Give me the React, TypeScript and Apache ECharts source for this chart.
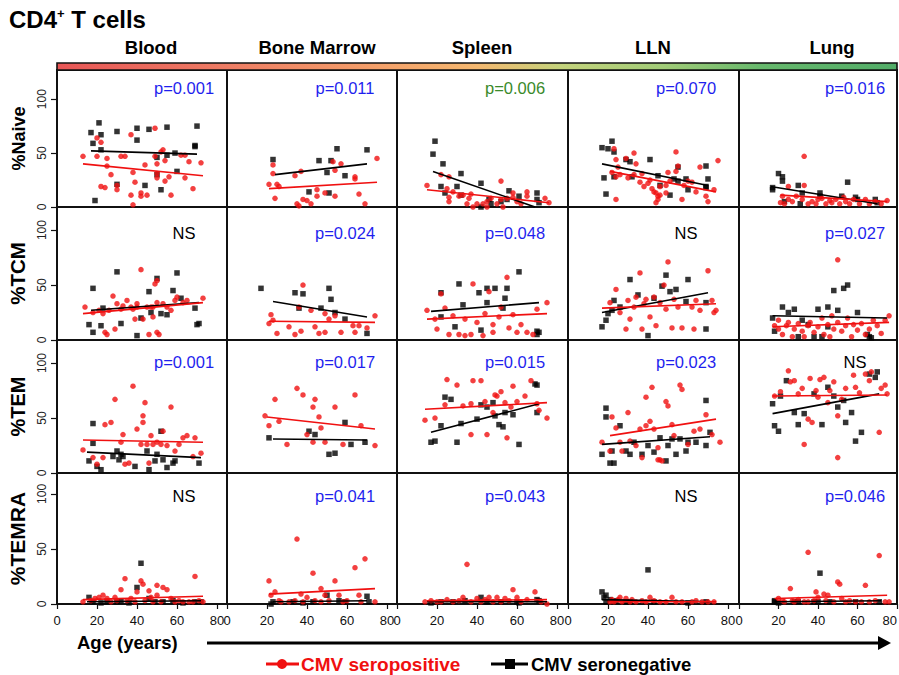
import React, { useEffect, useRef } from 'react';
import * as echarts from 'echarts';

// ---------- labels ----------
const tissues = ['Blood', 'Bone Marrow', 'Spleen', 'LLN', 'Lung'];
const subsets = ['%Naive', '%TCM', '%TEM', '%TEMRA'];
const xTicks = [0, 20, 40, 60, 80];
const yTicks = [0, 50, 100];
const pLabels = [
  ['p=0.001', 'p=0.011', 'p=0.006', 'p=0.070', 'p=0.016'],
  ['NS', 'p=0.024', 'p=0.048', 'NS', 'p=0.027'],
  ['p=0.001', 'p=0.017', 'p=0.015', 'p=0.023', 'NS'],
  ['NS', 'p=0.041', 'p=0.043', 'NS', 'p=0.046'],
];
const pColors = [
  ['#1f1fee', '#1f1fee', '#3a8a2a', '#1f1fee', '#1f1fee'],
  ['#000', '#1f1fee', '#1f1fee', '#000', '#1f1fee'],
  ['#1f1fee', '#1f1fee', '#1f1fee', '#1f1fee', '#000'],
  ['#000', '#1f1fee', '#1f1fee', '#000', '#1f1fee'],
];

// ---------- %Naive ----------
const naiveBloodNeg = [[17,69],[18,59],[21,78],[22,67],[22,53],[19,6],[30,70],[40,73],[40,62],[46,72],[55,74],[50,46],[44,20],[52,16],[55,48],[59,50],[60,33],[69,57],[70,75],[69,56],[50,30],[30,21]];
const naiveBloodPos = [[13,47],[20,64],[22,60],[20,47],[25,45],[25,38],[24,18],[27,30],[30,16],[32,47],[34,47],[37,67],[38,32],[39,23],[37,11],[38,2],[42,10],[42,13],[44,39],[45,11],[49,47],[49,73],[50,40],[50,31],[50,27],[52,51],[53,53],[54,24],[56,28],[57,11],[62,48],[64,48],[64,27],[66,42],[68,17],[72,41],[30,20],[22,19],[54,43]];
const naiveBloodNegFit = [[17,52],[70,49]];
const naiveBloodPosFit = [[13,40],[73,29]];

const naiveBMNeg = [[23,44],[46,43],[52,43],[55,54],[70,53],[50,32],[59,29],[41,14],[51,13]];
const naiveBMPos = [[23,39],[23,31],[21,21],[25,21],[26,19],[24,8],[34,29],[37,33],[35,3],[36,1],[38,7],[40,6],[42,3],[45,16],[45,10],[49,13],[53,42],[54,34],[54,10],[57,40],[64,28],[64,26],[66,12],[69,3],[75,45]];
const naiveBMNegFit = [[24,30],[70,40]];
const naiveBMPosFit = [[21,17],[75,23]];

const naiveSpleenNeg = [[19,61],[18,49],[23,40],[32,31],[22,19],[30,19],[24,13],[32,11],[42,22],[46,7],[47,3],[55,7],[56,15],[61,10],[70,13],[70,7],[71,4],[42,0],[52,5]];
const naiveSpleenPos = [[15,20],[22,30],[26,28],[25,17],[26,9],[26,5],[28,14],[31,10],[33,11],[36,8],[37,12],[40,3],[43,3],[45,5],[47,8],[52,24],[50,3],[52,7],[55,8],[58,13],[58,9],[60,5],[65,14],[65,10],[74,8],[76,4],[35,3],[38,0],[45,0],[53,0],[62,3]];
const naiveSpleenNegFit = [[18,33],[69,0]];
const naiveSpleenPosFit = [[15,16],[76,4]];

const naiveLLNNeg = [[17,55],[20,54],[22,61],[23,51],[29,44],[31,42],[41,44],[18,27],[19,12],[23,28],[32,28],[45,29],[46,20],[51,11],[53,26],[55,37],[55,24],[59,26],[60,16],[69,38],[70,26],[69,18],[69,19]];
const naiveLLNPos = [[23,54],[24,44],[25,37],[22,32],[24,28],[26,30],[29,45],[30,27],[33,50],[33,30],[34,40],[37,31],[36,23],[38,19],[40,22],[41,25],[42,17],[43,14],[44,13],[45,10],[45,7],[46,19],[46,11],[49,20],[49,13],[50,32],[51,24],[54,51],[54,33],[55,38],[57,7],[58,20],[60,24],[62,23],[64,14],[66,37],[69,10],[70,5],[73,16],[75,43],[24,7],[44,4]];
const naiveLLNNegFit = [[17,40],[70,20]];
const naiveLLNPosFit = [[21,33],[74,14]];

const naiveLungNeg = [[17,16],[17,18],[20,31],[22,28],[22,24],[30,20],[32,13],[41,13],[41,10],[52,10],[55,23],[59,9],[60,7],[69,7],[70,4],[23,5],[31,3]];
const naiveLungPos = [[33,47],[25,19],[33,20],[22,10],[25,7],[27,5],[29,10],[32,7],[35,3],[37,5],[40,7],[42,8],[44,3],[46,6],[47,4],[49,7],[51,3],[53,9],[54,5],[56,3],[58,7],[61,3],[64,7],[66,3],[69,5],[72,3],[75,6],[21,4],[23,3],[39,3]];
const naiveLungNegFit = [[16,19],[70,3]];
const naiveLungPosFit = [[21,11],[75,5]];

// ---------- %TCM ----------
const tcmBloodNeg = [[16,14],[18,7],[22,13],[18,47],[23,29],[30,62],[32,15],[40,4],[42,20],[46,44],[47,25],[50,56],[52,24],[58,45],[55,23],[60,61],[62,38],[69,29],[70,14],[71,15]];
const tcmBloodPos = [[14,30],[18,25],[21,27],[23,24],[24,7],[25,5],[26,27],[28,40],[29,10],[30,33],[32,28],[33,31],[35,36],[37,30],[38,28],[39,19],[40,30],[42,64],[43,19],[45,30],[46,5],[47,30],[48,21],[48,30],[50,34],[50,7],[51,5],[49,51],[50,54],[53,33],[55,30],[57,27],[59,36],[60,39],[63,34],[65,36],[73,38],[40,33]];
const tcmBloodNegFit = [[17,27],[71,34]];
const tcmBloodPosFit = [[13,24],[73,34]];

const tcmBMNeg = [[17,47],[34,43],[36,29],[38,42],[47,29],[51,47],[52,37],[54,25],[59,19],[70,6]];
const tcmBMPos = [[22,23],[23,18],[21,15],[25,6],[31,12],[34,5],[37,8],[38,50],[44,12],[46,6],[49,7],[49,24],[51,19],[54,22],[57,7],[63,13],[64,7],[66,13],[70,11],[74,22],[36,30],[42,27]];
const tcmBMNegFit = [[23,35],[70,21]];
const tcmBMPosFit = [[21,17],[74,16]];

const tcmSpleenNeg = [[22,21],[22,43],[29,12],[31,51],[33,32],[41,43],[42,9],[45,47],[45,34],[49,47],[53,29],[54,38],[55,47],[61,62],[70,5],[70,8],[71,7]];
const tcmSpleenPos = [[15,27],[19,19],[20,10],[24,29],[26,5],[28,22],[31,5],[34,4],[34,19],[37,5],[38,51],[40,16],[43,4],[44,24],[46,44],[48,14],[48,7],[51,21],[52,30],[55,57],[56,11],[58,23],[60,7],[62,14],[65,7],[68,5],[70,28],[75,34],[22,42]];
const tcmSpleenNegFit = [[17,26],[71,34]];
const tcmSpleenPosFit = [[15,19],[75,24]];

const tcmLLNNeg = [[17,12],[19,18],[20,24],[22,27],[23,36],[26,30],[31,55],[35,41],[40,4],[43,38],[47,49],[49,59],[51,44],[54,46],[59,35],[60,55],[69,34],[69,10]];
const tcmLLNPos = [[21,34],[24,46],[26,25],[29,10],[30,36],[31,19],[33,30],[34,39],[36,61],[37,10],[38,33],[39,37],[41,21],[43,39],[44,13],[46,34],[48,50],[49,28],[50,71],[52,11],[53,37],[55,30],[57,11],[62,30],[63,10],[64,36],[66,27],[70,63],[73,25],[74,27],[72,36]];
const tcmLLNNegFit = [[17,25],[70,43]];
const tcmLLNPosFit = [[17,29],[74,33]];

const tcmLungNeg = [[17,20],[18,8],[22,30],[25,25],[28,28],[30,3],[32,18],[35,14],[38,3],[40,28],[42,3],[45,30],[45,12],[48,45],[50,27],[53,47],[55,50],[65,5],[66,3],[67,2],[60,25]];
const tcmLungPos = [[18,13],[20,10],[22,5],[24,13],[25,16],[27,3],[28,10],[30,15],[32,8],[33,3],[35,13],[36,16],[38,7],[40,12],[42,20],[43,5],[45,14],[46,3],[48,10],[50,73],[50,16],[52,8],[54,13],[55,20],[57,3],[58,14],[60,9],[62,15],[64,5],[66,10],[68,18],[70,13],[72,6],[74,18],[76,22],[20,18],[47,22]];
const tcmLungNegFit = [[17,22],[75,20]];
const tcmLungPosFit = [[17,12],[76,16]];

// ---------- %TEM ----------
const temBloodNeg = [[16,11],[18,27],[18,45],[20,6],[22,3],[30,20],[32,17],[31,12],[33,15],[39,6],[45,20],[46,3],[50,17],[52,38],[53,12],[55,5],[58,9],[59,11],[71,9],[28,15],[49,11]];
const temBloodPos = [[13,21],[18,14],[20,8],[23,14],[24,44],[27,46],[29,67],[32,28],[33,35],[34,8],[36,9],[38,79],[40,40],[42,26],[43,52],[43,46],[44,64],[45,26],[46,9],[47,34],[48,26],[50,28],[52,26],[53,38],[55,25],[57,60],[59,20],[61,26],[63,32],[65,34],[68,15],[69,32],[72,18]];
const temBloodNegFit = [[15,19],[72,14]];
const temBloodPosFit = [[13,30],[73,28]];

const temBMNeg = [[21,32],[41,38],[44,35],[51,17],[54,18],[59,46],[62,26],[69,28]];
const temBMPos = [[19,52],[21,43],[24,67],[26,47],[30,26],[35,77],[38,71],[40,35],[43,60],[44,67],[46,51],[47,41],[49,28],[54,60],[58,26],[64,71],[67,43],[74,25],[43,28]];
const temBMNegFit = [[23,31],[70,30]];
const temBMPosFit = [[20,51],[74,40]];

const temSpleenNeg = [[17,28],[19,29],[22,43],[24,69],[27,67],[30,28],[32,45],[40,49],[42,62],[45,60],[48,64],[49,52],[51,44],[53,42],[54,55],[58,53],[61,26],[69,81],[70,80],[70,55]];
const temSpleenPos = [[14,48],[19,50],[24,62],[25,85],[30,80],[33,61],[37,63],[38,84],[42,84],[44,65],[45,35],[48,55],[49,71],[50,70],[52,74],[54,64],[55,32],[57,60],[58,79],[60,65],[64,70],[67,84],[70,63],[71,57],[75,50],[37,35]];
const temSpleenNegFit = [[17,37],[71,63]];
const temSpleenPosFit = [[14,58],[75,64]];

const temLLNNeg = [[17,17],[19,59],[19,51],[21,9],[22,20],[23,9],[26,43],[29,20],[31,17],[33,28],[37,17],[40,25],[43,19],[46,32],[49,11],[50,25],[52,31],[54,17],[56,31],[60,28],[64,28],[69,25],[69,66],[71,37],[59,20]];
const temLLNPos = [[17,28],[21,20],[22,51],[24,41],[26,28],[27,20],[30,55],[31,29],[34,25],[36,40],[37,14],[39,43],[39,69],[41,47],[42,78],[43,40],[45,23],[46,12],[47,11],[49,65],[50,61],[53,34],[56,80],[57,76],[60,26],[63,38],[66,40],[69,53],[72,35],[76,28],[52,44],[45,12]];
const temLLNNegFit = [[17,26],[71,33]];
const temLLNPosFit = [[21,34],[74,49]];

const temLungNeg = [[17,63],[18,43],[20,38],[21,70],[24,84],[28,55],[30,44],[33,54],[38,72],[42,44],[45,78],[48,70],[50,60],[53,66],[54,46],[57,55],[59,29],[62,37],[66,90],[69,87],[70,92]];
const temLungPos = [[18,70],[21,74],[25,93],[26,83],[28,84],[30,72],[32,77],[33,26],[35,49],[36,86],[37,46],[39,75],[40,69],[41,85],[43,87],[45,64],[46,75],[48,83],[50,52],[50,14],[52,67],[54,77],[58,89],[59,78],[61,73],[64,90],[66,84],[67,92],[71,37],[72,77],[74,80],[75,72]];
const temLungNegFit = [[17,54],[71,72]];
const temLungPosFit = [[17,70],[75,71]];

// ---------- %TEMRA ----------
const temraBloodNeg = [[16,6],[18,2],[22,1],[25,2],[30,2],[32,3],[40,15],[42,37],[46,5],[49,2],[53,2],[58,3],[69,2],[72,2],[36,1],[63,1]];
const temraBloodPos = [[13,2],[17,3],[19,5],[21,6],[23,8],[25,5],[27,2],[29,6],[30,3],[32,13],[34,23],[35,3],[37,5],[39,2],[40,11],[42,21],[43,18],[44,3],[46,12],[47,6],[48,2],[50,8],[50,17],[52,2],[53,15],[55,13],[57,5],[59,2],[61,3],[63,2],[66,2],[68,2],[69,25],[71,3],[73,2]];
const temraBloodNegFit = [[15,2],[72,3]];
const temraBloodPosFit = [[13,4],[73,7]];

const temraBMNeg = [[22,0],[23,2],[33,2],[38,1],[43,2],[50,8],[56,3],[59,2],[70,7],[71,2]];
const temraBMPos = [[21,21],[22,8],[24,11],[26,3],[27,2],[31,2],[34,3],[35,59],[37,9],[38,2],[40,6],[43,28],[44,3],[47,2],[49,8],[51,3],[54,21],[56,8],[58,2],[60,3],[64,33],[66,8],[67,2],[69,41],[74,2],[47,14]];
const temraBMNegFit = [[23,2],[70,3]];
const temraBMPosFit = [[21,9],[74,14]];

const temraSpleenNeg = [[17,1],[22,2],[28,2],[34,3],[42,6],[45,2],[52,2],[60,2],[70,4],[71,3],[61,1]];
const temraSpleenPos = [[14,2],[17,3],[20,2],[22,2],[25,4],[28,2],[31,3],[33,6],[35,36],[37,2],[40,5],[42,2],[44,4],[46,6],[48,2],[50,6],[52,2],[54,5],[56,3],[58,13],[60,6],[62,2],[65,4],[69,11],[72,2],[75,0]];
const temraSpleenNegFit = [[15,2],[75,2]];
const temraSpleenPosFit = [[15,3],[75,4]];

const temraLLNNeg = [[17,11],[18,6],[19,2],[19,8],[21,4],[24,3],[29,2],[40,31],[43,2],[60,1],[69,2],[31,2]];
const temraLLNPos = [[21,2],[22,4],[23,2],[25,4],[27,2],[29,5],[31,2],[32,4],[34,2],[37,3],[39,2],[41,6],[43,3],[46,2],[49,2],[52,6],[54,2],[57,2],[62,2],[64,3],[67,2],[70,2],[73,2],[26,6]];
const temraLLNNegFit = [[17,4],[72,2]];
const temraLLNPosFit = [[21,2],[74,2]];

const temraLungNeg = [[18,2],[18,3],[20,1],[28,2],[30,2],[40,2],[41,28],[46,2],[59,2],[71,2],[38,2]];
const temraLungPos = [[20,5],[22,3],[23,2],[26,14],[27,3],[28,2],[30,4],[33,2],[35,47],[35,2],[38,3],[39,11],[40,6],[43,9],[44,3],[45,8],[48,2],[50,20],[51,18],[52,5],[54,2],[56,3],[59,2],[62,2],[64,17],[66,2],[69,3],[71,44],[74,2],[76,2]];
const temraLungNegFit = [[18,2],[72,3]];
const temraLungPosFit = [[18,5],[75,8]];

const negPoints = [
  [naiveBloodNeg, naiveBMNeg, naiveSpleenNeg, naiveLLNNeg, naiveLungNeg],
  [tcmBloodNeg, tcmBMNeg, tcmSpleenNeg, tcmLLNNeg, tcmLungNeg],
  [temBloodNeg, temBMNeg, temSpleenNeg, temLLNNeg, temLungNeg],
  [temraBloodNeg, temraBMNeg, temraSpleenNeg, temraLLNNeg, temraLungNeg],
];
const posPoints = [
  [naiveBloodPos, naiveBMPos, naiveSpleenPos, naiveLLNPos, naiveLungPos],
  [tcmBloodPos, tcmBMPos, tcmSpleenPos, tcmLLNPos, tcmLungPos],
  [temBloodPos, temBMPos, temSpleenPos, temLLNPos, temLungPos],
  [temraBloodPos, temraBMPos, temraSpleenPos, temraLLNPos, temraLungPos],
];
const negFits = [
  [naiveBloodNegFit, naiveBMNegFit, naiveSpleenNegFit, naiveLLNNegFit, naiveLungNegFit],
  [tcmBloodNegFit, tcmBMNegFit, tcmSpleenNegFit, tcmLLNNegFit, tcmLungNegFit],
  [temBloodNegFit, temBMNegFit, temSpleenNegFit, temLLNNegFit, temLungNegFit],
  [temraBloodNegFit, temraBMNegFit, temraSpleenNegFit, temraLLNNegFit, temraLungNegFit],
];
const posFits = [
  [naiveBloodPosFit, naiveBMPosFit, naiveSpleenPosFit, naiveLLNPosFit, naiveLungPosFit],
  [tcmBloodPosFit, tcmBMPosFit, tcmSpleenPosFit, tcmLLNPosFit, tcmLungPosFit],
  [temBloodPosFit, temBMPosFit, temSpleenPosFit, temLLNPosFit, temLungPosFit],
  [temraBloodPosFit, temraBMPosFit, temraSpleenPosFit, temraLLNPosFit, temraLungPosFit],
];

// ---------- layout ----------
const COL_LEFT = [57, 227, 397, 568, 739];
const COL_W = [170, 170, 171, 171, 158];
const X_MAX = [85, 85, 85.5, 85.5, 80];
const ROW_TOP = [70, 207, 340, 473];
const ROW_H = [137, 133, 133, 131];
const Y_MAX = [127, 121, 121, 119];
const LABEL_DX = [127, 118, 118, 118, 116];
const LABEL_DY = [18, 26, 22, 23];
const HEADER_X = [151, 317, 482, 653, 832];
const NAME_SIZE = [18, 20.5, 20, 21];

const FONT = 'Arial, "Liberation Sans", Helvetica, sans-serif';
const RED = '#f01010';
const BLACK = '#000000';

export default function App() {
  const ref = useRef<HTMLDivElement>(null);

  useEffect(() => {
    if (!ref.current) return;
    const chart = echarts.init(ref.current, null, { renderer: 'svg' });

    const grid: any[] = [];
    const xAxis: any[] = [];
    const yAxis: any[] = [];
    const series: any[] = [];
    const graphic: any[] = [];

    for (let r = 0; r < 4; r++) {
      for (let c = 0; c < 5; c++) {
        const gi = r * 5 + c;
        grid.push({
          left: COL_LEFT[c], top: ROW_TOP[r], width: COL_W[c], height: ROW_H[r],
          show: true, borderColor: '#111', borderWidth: 2, backgroundColor: '#fff',
          containLabel: false, outerBoundsMode: 'none',
        });
        const bottom = r === 3;
        xAxis.push({
          gridIndex: gi, type: 'value', min: 0, max: X_MAX[c], interval: 20,
          splitLine: { show: false },
          axisLine: { show: false },
          axisTick: { show: bottom, length: 5, lineStyle: { color: '#111', width: 1.2 }, customValues: xTicks },
          axisLabel: {
            show: bottom, fontSize: 13, color: '#111', margin: 10, fontFamily: FONT,
            customValues: xTicks,
            alignMaxLabel: c === 4 ? 'right' : undefined,
            formatter: (v: number) => (xTicks.includes(v) ? String(v) : ''),
          },
        });
        yAxis.push({
          gridIndex: gi, type: 'value', min: 0, max: Y_MAX[r], interval: 50,
          splitLine: { show: false },
          axisLine: { show: false },
          axisTick: { show: c === 0, length: 6, lineStyle: { color: '#111', width: 1.2 }, customValues: yTicks },
          axisLabel: {
            show: c === 0, rotate: 90, fontSize: 12, color: '#222', margin: 9, fontFamily: FONT,
            customValues: yTicks,
            formatter: (v: number) => (yTicks.includes(v) ? String(v) : ''),
          },
          name: c === 0 ? subsets[r] : '',
          nameLocation: 'middle', nameRotate: 90, nameGap: 29,
          nameTextStyle: { fontSize: NAME_SIZE[r], fontWeight: 'bold', color: '#000', fontFamily: FONT },
        });
        series.push({
          type: 'scatter', xAxisIndex: gi, yAxisIndex: gi, data: negPoints[r][c],
          symbol: 'rect', symbolSize: 5.5, itemStyle: { color: BLACK }, clip: false, silent: true,
        });
        series.push({
          type: 'scatter', xAxisIndex: gi, yAxisIndex: gi, data: posPoints[r][c],
          symbol: 'circle', symbolSize: 5.5, itemStyle: { color: RED }, clip: false, silent: true,
        });
        series.push({
          type: 'line', xAxisIndex: gi, yAxisIndex: gi, data: negFits[r][c],
          showSymbol: false, lineStyle: { color: BLACK, width: 1.6 }, clip: false, silent: true,
        });
        series.push({
          type: 'line', xAxisIndex: gi, yAxisIndex: gi, data: posFits[r][c],
          showSymbol: false, lineStyle: { color: RED, width: 1.6 }, clip: false, silent: true,
        });
        graphic.push({
          type: 'text', x: COL_LEFT[c] + LABEL_DX[c], y: ROW_TOP[r] + LABEL_DY[r], z: 100,
          style: {
            text: pLabels[r][c], fill: pColors[r][c], fontSize: 16.5, fontFamily: FONT,
            textAlign: 'center', textVerticalAlign: 'middle',
          },
        });
      }
    }

    // title
    graphic.push({
      type: 'text', x: 9, y: 19, z: 100,
      style: {
        text: '{a|CD4}{s|+}{a| T cells}',
        textVerticalAlign: 'middle',
        rich: {
          a: { fontSize: 24, fontWeight: 'bold', fontFamily: FONT, fill: '#000', lineHeight: 26 },
          s: { fontSize: 13, fontWeight: 'bold', fontFamily: FONT, fill: '#000', lineHeight: 26, padding: [0, 0, 12, 0] },
        },
      },
    });
    // column headers
    tissues.forEach((t, c) => {
      graphic.push({
        type: 'text', x: HEADER_X[c], y: 47, z: 100,
        style: { text: t, fontSize: 18.5, fontWeight: 'bold', fontFamily: FONT, fill: '#000', textAlign: 'center', textVerticalAlign: 'middle' },
      });
    });
    // gradient header bar
    graphic.push({
      type: 'rect', z: 100,
      shape: { x: 57, y: 63, width: 840, height: 7 },
      style: {
        fill: new echarts.graphic.LinearGradient(0, 0, 1, 0, [
          { offset: 0, color: '#e85656' },
          { offset: 0.2, color: '#ee7c64' },
          { offset: 0.38, color: '#f4a06a' },
          { offset: 0.5, color: '#f4b870' },
          { offset: 0.6, color: '#c4d37c' },
          { offset: 0.72, color: '#a2cc78' },
          { offset: 0.84, color: '#66b86c' },
          { offset: 1, color: '#52ad68' },
        ]),
        stroke: '#111', lineWidth: 1.6,
      },
    });
    // Age label and arrow
    graphic.push({
      type: 'text', x: 77, y: 642, z: 100,
      style: { text: 'Age (years)', fontSize: 18.5, fontWeight: 'bold', fontFamily: FONT, fill: '#000', textVerticalAlign: 'middle' },
    });
    graphic.push({
      type: 'line', z: 100, shape: { x1: 207, y1: 643, x2: 882, y2: 643 },
      style: { stroke: '#000', lineWidth: 3 },
    });
    graphic.push({
      type: 'polygon', z: 100, shape: { points: [[878, 636], [891, 643], [878, 650]] },
      style: { fill: '#000' },
    });
    // legend
    graphic.push({ type: 'line', z: 100, shape: { x1: 266, y1: 664, x2: 299, y2: 664 }, style: { stroke: RED, lineWidth: 3 } });
    graphic.push({ type: 'circle', z: 101, shape: { cx: 282, cy: 664, r: 5 }, style: { fill: RED } });
    graphic.push({
      type: 'text', x: 301, y: 664, z: 100,
      style: { text: 'CMV seropositive', fontSize: 19, fontWeight: 'bold', fontFamily: FONT, fill: RED, textVerticalAlign: 'middle' },
    });
    graphic.push({ type: 'line', z: 100, shape: { x1: 491, y1: 664, x2: 528, y2: 664 }, style: { stroke: '#000', lineWidth: 3 } });
    graphic.push({ type: 'rect', z: 101, shape: { x: 505, y: 659, width: 10, height: 10 }, style: { fill: '#000' } });
    graphic.push({
      type: 'text', x: 531, y: 664, z: 100,
      style: { text: 'CMV seronegative', fontSize: 18.5, fontWeight: 'bold', fontFamily: FONT, fill: '#000', textVerticalAlign: 'middle' },
    });

    chart.setOption({
      animation: false,
      backgroundColor: '#ffffff',
      grid, xAxis, yAxis, series, graphic,
    });

    return () => chart.dispose();
  }, []);

  return (
    <div
      ref={ref}
      style={{ position: 'absolute', left: 0, top: 0, width: 899, height: 675 }}
    />
  );
}
